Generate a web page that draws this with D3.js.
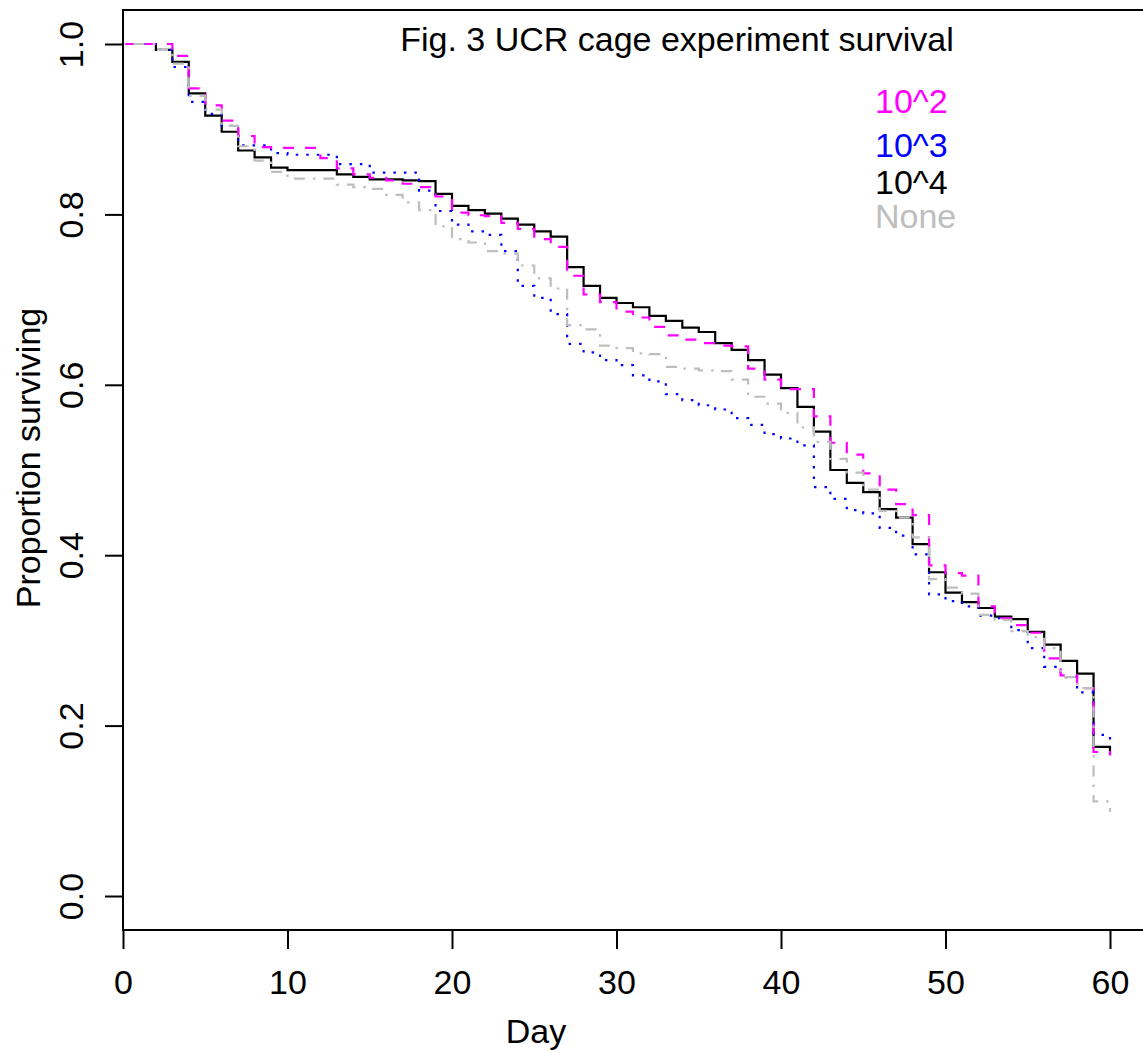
<!DOCTYPE html>
<html>
<head>
<meta charset="utf-8">
<script src="https://cdn.jsdelivr.net/npm/d3@7"></script>
<style>
  body { margin: 0; background: #fff; }
  svg { display: block; font-family: "Liberation Sans", Arial, Helvetica, sans-serif; }
</style>
</head>
<body>
<script>
const width = 1143;
const height = 1051;

// survival proportion at the end of each day, day 0..60
const days = d3.range(0, 61);

const surv10e2 = [1.000, 1.000, 1.000, 0.986, 0.948, 0.928, 0.910, 0.892, 0.879, 0.878,
  0.878, 0.878, 0.866, 0.854, 0.847, 0.843, 0.840, 0.836, 0.832, 0.821,
  0.802, 0.799, 0.798, 0.790, 0.783, 0.771, 0.762, 0.728, 0.706, 0.697,
  0.686, 0.679, 0.668, 0.658, 0.653, 0.649, 0.646, 0.645, 0.619, 0.606,
  0.595, 0.595, 0.563, 0.532, 0.518, 0.496, 0.477, 0.460, 0.447, 0.388,
  0.379, 0.376, 0.340, 0.326, 0.318, 0.309, 0.279, 0.259, 0.244, 0.169, 0.165];

const surv10e3 = [1.000, 1.000, 0.993, 0.973, 0.932, 0.918, 0.904, 0.881, 0.881, 0.872,
  0.870, 0.870, 0.870, 0.859, 0.859, 0.849, 0.849, 0.849, 0.828, 0.804,
  0.788, 0.780, 0.776, 0.757, 0.716, 0.702, 0.683, 0.648, 0.638, 0.629,
  0.623, 0.611, 0.604, 0.589, 0.582, 0.576, 0.571, 0.561, 0.553, 0.542,
  0.537, 0.529, 0.480, 0.466, 0.453, 0.449, 0.432, 0.423, 0.401, 0.354,
  0.346, 0.340, 0.329, 0.326, 0.312, 0.291, 0.269, 0.257, 0.239, 0.189, 0.175];

const surv10e4 = [1.000, 1.000, 0.993, 0.979, 0.942, 0.916, 0.897, 0.875, 0.867, 0.855,
  0.852, 0.852, 0.852, 0.847, 0.844, 0.841, 0.841, 0.840, 0.839, 0.824,
  0.810, 0.805, 0.801, 0.795, 0.788, 0.780, 0.774, 0.738, 0.716, 0.702,
  0.696, 0.691, 0.681, 0.675, 0.667, 0.662, 0.649, 0.641, 0.629, 0.612,
  0.596, 0.574, 0.545, 0.500, 0.485, 0.474, 0.454, 0.444, 0.413, 0.380,
  0.356, 0.345, 0.338, 0.328, 0.325, 0.310, 0.295, 0.276, 0.261, 0.175, 0.166];

const survNone = [1.000, 1.000, 0.993, 0.977, 0.939, 0.923, 0.904, 0.880, 0.863, 0.850,
  0.842, 0.842, 0.842, 0.835, 0.832, 0.830, 0.823, 0.814, 0.805, 0.786,
  0.771, 0.767, 0.757, 0.754, 0.740, 0.725, 0.713, 0.670, 0.665, 0.646,
  0.643, 0.637, 0.636, 0.621, 0.619, 0.617, 0.616, 0.606, 0.586, 0.578,
  0.567, 0.550, 0.533, 0.513, 0.497, 0.477, 0.452, 0.444, 0.421, 0.372,
  0.362, 0.355, 0.330, 0.324, 0.311, 0.304, 0.291, 0.257, 0.244, 0.111, 0.099];

const xTicks = [0, 10, 20, 30, 40, 50, 60];
const yTicks = [0.0, 0.2, 0.4, 0.6, 0.8, 1.0];

const legendLabels = ['10^2', '10^3', '10^4', 'None'];

const series = [
  { name: '10^4', values: surv10e4, color: '#000000', dash: null, width: 2.2 },
  { name: '10^3', values: surv10e3, color: '#0000ff', dash: '2.5,8', width: 2.2 },
  { name: '10^2', values: surv10e2, color: '#ff00ff', dash: '11,11', width: 2.2 },
  { name: 'None', values: survNone, color: '#bebebe', dash: '2.5,8,11,8', width: 2.2 },
];
const colorOf = { '10^2': '#ff00ff', '10^3': '#0000ff', '10^4': '#000000', 'None': '#bebebe' };

const svg = d3.select('body').append('svg')
  .attr('width', width)
  .attr('height', height);

const x = d3.scaleLinear().domain([0, 60]).range([123, 1110]);
const y = d3.scaleLinear().domain([0, 1]).range([896, 44]);

const boxLeft = 123, boxTop = 10, boxBottom = 930;

// survival curves
const line = d3.line()
  .x((d, i) => x(days[i]))
  .y(d => y(d))
  .curve(d3.curveStepAfter);

svg.append('g')
  .selectAll('path')
  .data(series)
  .enter().append('path')
    .attr('d', s => line(s.values))
    .attr('fill', 'none')
    .attr('stroke', s => s.color)
    .attr('stroke-width', s => s.width)
    .attr('stroke-dasharray', s => s.dash);

// box (right side runs off the picture)
svg.append('path')
  .attr('d', `M${width + 20},${boxTop}H${boxLeft}V${boxBottom}H${width + 20}`)
  .attr('fill', 'none')
  .attr('stroke', '#000')
  .attr('stroke-width', 2);

// x axis
const xAxis = svg.append('g')
  .attr('transform', `translate(0,${boxBottom})`)
  .call(d3.axisBottom(x).tickValues(xTicks).tickSize(19).tickPadding(21).tickFormat(d3.format('d')));
xAxis.select('.domain').remove();
xAxis.selectAll('line').attr('stroke-width', 2);
xAxis.selectAll('text').attr('font-size', 34).attr('font-family', null).attr('fill', '#000');

// y axis, labels rotated like R's default
const yAxis = svg.append('g')
  .attr('transform', `translate(${boxLeft},0)`)
  .call(d3.axisLeft(y).tickValues(yTicks).tickSize(18).tickFormat(d3.format('.1f')));
yAxis.select('.domain').remove();
yAxis.selectAll('line').attr('stroke-width', 2);
yAxis.selectAll('text')
  .attr('font-size', 34)
  .attr('font-family', null)
  .attr('fill', '#000')
  .attr('text-anchor', 'middle')
  .attr('x', 0)
  .attr('y', -40)
  .attr('dy', 0)
  .attr('transform', 'rotate(-90)');

// axis titles
svg.append('text')
  .attr('x', 536)
  .attr('y', 1043)
  .attr('text-anchor', 'middle')
  .attr('font-size', 34)
  .text('Day');

svg.append('text')
  .attr('transform', 'translate(40,458) rotate(-90)')
  .attr('text-anchor', 'middle')
  .attr('font-size', 34)
  .text('Proportion surviving');

// title
svg.append('text')
  .attr('x', 677)
  .attr('y', 51)
  .attr('text-anchor', 'middle')
  .attr('font-size', 34)
  .text('Fig. 3 UCR cage experiment survival');

// legend as coloured labels
const legendY = [113, 157, 194, 228];
svg.append('g')
  .selectAll('text')
  .data(legendLabels)
  .enter().append('text')
    .attr('x', 875)
    .attr('y', (d, i) => legendY[i])
    .attr('font-size', 34)
    .attr('fill', d => colorOf[d])
    .text(d => d);
</script>
</body>
</html>
